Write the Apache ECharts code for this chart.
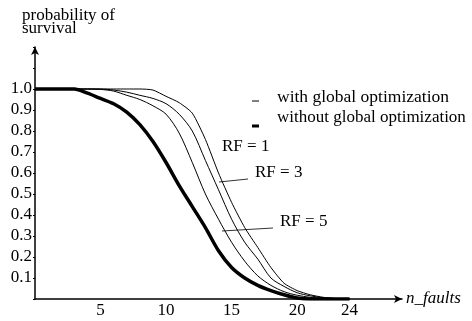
<!DOCTYPE html>
<html>
<head>
<meta charset="utf-8">
<script src="https://cdn.jsdelivr.net/npm/echarts@6/dist/echarts.min.js"></script>
<style>
    html, body { margin: 0; padding: 0; background: #fff; }
    #chart { width: 472px; height: 321px; }
</style>
</head>
<body>
<div id="chart"></div>
<script>
// n_faults
var faults = [0, 1, 2, 3, 4, 5, 6, 7, 8, 9, 10, 11, 12, 13, 14, 15, 16, 17, 18, 19, 20, 21, 22, 23, 24];
// survival probability, without global optimization (thick)
var withoutOpt = [1, 1, 1, 1, 0.98, 0.955, 0.93, 0.89, 0.83, 0.75, 0.65, 0.54, 0.44, 0.34, 0.23, 0.15, 0.1, 0.065, 0.04, 0.02, 0.005, 0, 0, 0, 0];
// with global optimization
var rf5 = [1, 1, 1, 1, 1, 0.998, 0.99, 0.97, 0.95, 0.92, 0.88, 0.79, 0.65, 0.5, 0.38, 0.27, 0.18, 0.11, 0.065, 0.035, 0.018, 0.008, 0.003, 0.001, 0];
var rf3 = [1, 1, 1, 1, 1, 1, 0.995, 0.985, 0.97, 0.955, 0.93, 0.88, 0.8, 0.66, 0.52, 0.38, 0.27, 0.19, 0.1, 0.06, 0.03, 0.015, 0.006, 0.002, 0];
var rf1 = [1, 1, 1, 1, 1, 1, 1, 1, 1, 0.995, 0.965, 0.935, 0.885, 0.76, 0.6, 0.46, 0.34, 0.245, 0.15, 0.075, 0.04, 0.02, 0.008, 0.002, 0];
var xTicks = [5, 10, 15, 20, 24];

var font = 'Liberation Serif';

function pairs(ys) {
    var out = [];
    for (var i = 0; i < faults.length; i++) {
        out.push([faults[i], ys[i]]);
    }
    return out;
}

function thin(name, ys, smooth) {
    return {
        name: name,
        type: 'line',
        data: pairs(ys),
        symbol: 'none',
        smooth: smooth,
        lineStyle: {color: '#000', width: 1},
        silent: true
    };
}

var chart = echarts.init(document.getElementById('chart'));
var option = {
    animation: false,
    backgroundColor: '#fff',
    title: {
        text: 'probability of\nsurvival',
        left: 22,
        top: 9,
        padding: 0,
        textStyle: {
            fontFamily: font,
            fontSize: 17,
            fontWeight: 'normal',
            color: '#000',
            lineHeight: 13
        }
    },
    grid: {
        left: 35,
        right: 70,
        top: 47,
        bottom: 22
    },
    xAxis: {
        type: 'value',
        min: 0,
        max: 28,
        name: 'n_faults',
        nameLocation: 'end',
        nameGap: 4,
        nameTextStyle: {
            fontFamily: font,
            fontSize: 17,
            fontStyle: 'italic',
            color: '#000',
            padding: [0, 0, 28, 0]
        },
        axisLine: {
            lineStyle: {color: '#000', width: 1.5},
            symbol: ['none', 'arrow'],
            symbolSize: [6, 8]
        },
        axisTick: {show: false},
        axisLabel: {
            customValues: xTicks,
            margin: 3,
            fontFamily: font,
            fontSize: 17,
            color: '#000'
        },
        splitLine: {show: false}
    },
    yAxis: {
        type: 'value',
        min: 0,
        max: 1.2,
        interval: 0.1,
        axisLine: {
            lineStyle: {color: '#000', width: 1.5},
            symbol: ['none', 'arrow'],
            symbolSize: [6, 8]
        },
        axisTick: {show: true, length: 2, lineStyle: {color: '#000'}},
        axisLabel: {
            margin: 3,
            fontFamily: font,
            fontSize: 17,
            color: '#000',
            formatter: function (v) {
                if (v < 0.05 || v > 1.05) return '';
                return v.toFixed(1);
            }
        },
        splitLine: {show: false}
    },
    graphic: [
        {type: 'line', shape: {x1: 252, y1: 101, x2: 259, y2: 101}, style: {stroke: '#000', lineWidth: 1}},
        {type: 'text', left: 277, top: 88, style: {text: 'with global optimization', fontFamily: font, fontSize: 17.5, fill: '#000'}},
        {type: 'line', shape: {x1: 252, y1: 126, x2: 259, y2: 126}, style: {stroke: '#000', lineWidth: 3}},
        {type: 'text', left: 277, top: 109, style: {text: 'without global optimization', fontFamily: font, fontSize: 17, fill: '#000'}},
        {type: 'text', left: 222, top: 138, style: {text: 'RF = 1', fontFamily: font, fontSize: 17, fill: '#000'}},
        {type: 'line', shape: {x1: 219, y1: 182, x2: 248, y2: 179}, style: {stroke: '#000', lineWidth: 0.8}},
        {type: 'text', left: 255, top: 164, style: {text: 'RF = 3', fontFamily: font, fontSize: 17, fill: '#000'}},
        {type: 'line', shape: {x1: 222, y1: 231, x2: 273, y2: 228}, style: {stroke: '#000', lineWidth: 0.8}},
        {type: 'text', left: 280, top: 213, style: {text: 'RF = 5', fontFamily: font, fontSize: 17, fill: '#000'}}
    ],
    series: [
        thin('RF = 1', rf1, 0.2),
        thin('RF = 3', rf3, 0.3),
        thin('RF = 5', rf5, 0.3),
        {
            name: 'without global optimization',
            type: 'line',
            data: pairs(withoutOpt),
            symbol: 'none',
            smooth: 0.3,
            lineStyle: {color: '#000', width: 3.5},
            silent: true
        }
    ]
};
chart.setOption(option);
</script>
</body>
</html>
